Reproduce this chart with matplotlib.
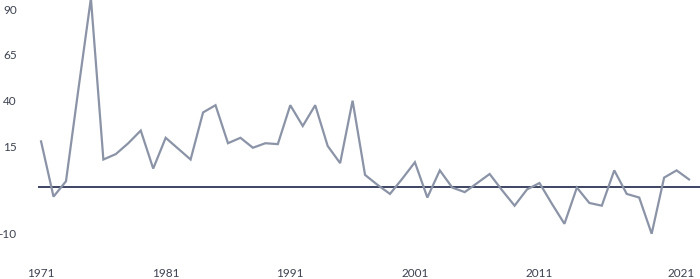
import matplotlib
matplotlib.use("Agg")
import matplotlib.pyplot as plt

# annual values (zero = dark horizontal line)
years = list(range(1971, 2024))
values = [25, -5.5, 3, 54, 104, 15, 18, 24, 31, 10,
          27, 21, 15, 41, 45, 24, 27, 21.5, 24, 23.5,
          45, 33.5, 45, 22.5, 13, 47.5, 6.5, 1, -4, 4.5,
          13.5, -6, 9, -0.5, -3, 2, 7, -2, -10.5, -1.5,
          2, -9.5, -20.5, -0.5, -9, -10.5, 9, -4, -6, -26,
          5, 9, 4]

# tick labels as they sit in the reference
xtick_pos = [1971, 1981, 1991, 2001, 2011, 2022.4]
xtick_labels = ["1971", "1981", "1991", "2001", "2011", "2021"]
ytick_pos = [97.6, 72.8, 47.5, 22.1, -25.7]
ytick_labels = ["90", "65", "40", "15", "-10"]

plt.rcParams['font.family'] = ['Lato', 'DejaVu Sans']

W, H = 700, 279
fig = plt.figure(figsize=(W / 100, H / 100), dpi=100)
ax = fig.add_axes([37.7 / W, (H - 262) / H, 1 - 37.7 / W, 262 / H])

ax.axhline(0, color='#3d4462', lw=1.4, zorder=1)
ax.plot(years, values, color='#8b93a7', lw=1.6, zorder=2, solid_joinstyle='miter')

ax.set_xlim(1970.73, 2023.88)
ax.set_ylim(-41.6, 103.1)

ax.set_xticks(xtick_pos, xtick_labels)
ax.set_yticks(ytick_pos, ytick_labels)
ax.tick_params(axis='both', length=0, labelsize=8.5, labelcolor='#3c4250')
ax.tick_params(axis='y', pad=15)
ax.tick_params(axis='x', pad=4)

for s in ax.spines.values():
    s.set_visible(False)
ax.patch.set_visible(False)

fig.savefig("out.png", dpi=100)
